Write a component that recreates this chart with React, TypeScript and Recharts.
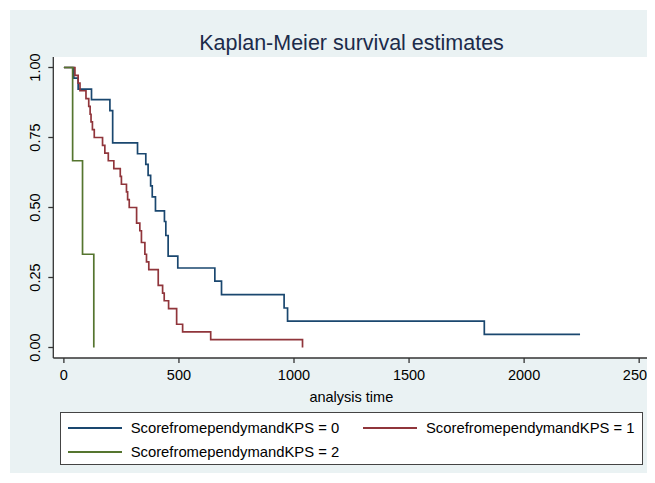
import { LineChart, Line, XAxis, YAxis, CartesianGrid } from 'recharts';

// KPS score 0
const kps0Time = [0, 43, 62, 120, 200, 212, 320, 356, 366, 377, 384, 398, 437, 443, 453, 495, 656, 685, 957, 972, 1827, 2243];
const kps0Surv = [1, 0.962, 0.923, 0.885, 0.846, 0.731, 0.692, 0.654, 0.615, 0.577, 0.538, 0.488, 0.45, 0.4, 0.326, 0.284, 0.237, 0.189, 0.141, 0.094, 0.047, 0.047];

// KPS score 1
const kps1Time = [0, 48, 62, 70, 96, 108, 114, 118, 124, 132, 168, 178, 193, 217, 245, 250, 272, 277, 284, 316, 330, 337, 352, 359, 369, 410, 429, 436, 455, 490, 516, 638, 1037];
const kps1Surv = [1, 0.972, 0.944, 0.917, 0.889, 0.861, 0.833, 0.806, 0.778, 0.75, 0.722, 0.694, 0.667, 0.639, 0.611, 0.583, 0.556, 0.528, 0.5, 0.444, 0.417, 0.375, 0.333, 0.306, 0.278, 0.222, 0.194, 0.167, 0.139, 0.083, 0.056, 0.028, 0];

// KPS score 2
const kps2Time = [0, 38, 81, 130];
const kps2Surv = [1, 0.667, 0.333, 0];

const xTicks = [0, 500, 1000, 1500, 2000, 2500];
const yTicks = [0, 0.25, 0.5, 0.75, 1];

const series = [
  { name: 'ScorefromependymandKPS = 0', color: '#1a476f', time: kps0Time, surv: kps0Surv },
  { name: 'ScorefromependymandKPS = 1', color: '#90353b', time: kps1Time, surv: kps1Surv },
  { name: 'ScorefromependymandKPS = 2', color: '#55752f', time: kps2Time, surv: kps2Surv },
];

const font = '"Liberation Sans", Arial, Helvetica, sans-serif';
const bg = '#eaf2f3';

const YTick = ({ y, payload }: any) => (
  <text
    x={25}
    y={y}
    transform={`rotate(-90 25 ${y})`}
    textAnchor="middle"
    dominantBaseline="central"
    fontSize={14.5}
    fontFamily={font}
    fill="#000"
  >
    {payload.value.toFixed(2)}
  </text>
);

const XTick = ({ x, payload }: any) => (
  <text x={x} y={365} textAnchor="middle" dominantBaseline="central" fontSize={14.5} fontFamily={font} fill="#000">
    {payload.value}
  </text>
);

const legendPos = [
  { left: 6.7, top: 15 },
  { left: 302, top: 15 },
  { left: 6.7, top: 38.4 },
];

export default function App() {
  return (
    <div style={{ position: 'relative', width: 647, height: 475, fontFamily: font }}>
      <div style={{ position: 'absolute', left: 2, top: 2, width: 645, height: 463, background: bg }} />
      <div
        style={{
          position: 'absolute',
          left: 343.5,
          top: 23,
          transform: 'translateX(-50%)',
          fontSize: 21.5,
          lineHeight: '24px',
          color: '#1c2b4a',
          whiteSpace: 'nowrap',
        }}
      >
        Kaplan-Meier survival estimates
      </div>
      <div style={{ position: 'absolute', left: 2, top: 2 }}>
        <LineChart width={645} height={400} margin={{ top: 47, right: 5.7, left: 0, bottom: 0 }}>
          <rect x={43.3} y={47} width={596} height={301} fill="#fff" />
          <CartesianGrid horizontal vertical={false} stroke={bg} strokeWidth={1.5} fill="#fff" />
          <XAxis
            type="number"
            dataKey="t"
            domain={[-46, 2544]}
            ticks={xTicks}
            allowDataOverflow
            height={52}
            tickSize={5}
            stroke="#333"
            strokeWidth={1.3}
            tick={<XTick />}
            label={{
              content: ({ viewBox }: any) => (
                <text
                  x={viewBox.x + viewBox.width / 2}
                  y={387}
                  textAnchor="middle"
                  dominantBaseline="central"
                  fontSize={14.5}
                  fontFamily={font}
                  fill="#000"
                >
                  analysis time
                </text>
              ),
            }}
          />
          <YAxis
            type="number"
            domain={[-0.0375, 1.0375]}
            ticks={yTicks}
            allowDataOverflow
            width={43.3}
            tickSize={5}
            stroke="#333"
            strokeWidth={1.3}
            tick={<YTick />}
          />
          {series.map((s) => (
            <Line
              key={s.name}
              data={s.time.map((t, i) => ({ t, s: s.surv[i] }))}
              dataKey="s"
              name={s.name}
              type="stepAfter"
              stroke={s.color}
              strokeWidth={1.7}
              dot={false}
              activeDot={false}
              isAnimationActive={false}
            />
          ))}
        </LineChart>
      </div>
      <div
        style={{
          position: 'absolute',
          left: 52,
          top: 404.3,
          width: 583.3,
          height: 53.2,
          boxSizing: 'border-box',
          border: '1.3px solid #444',
          background: '#fff',
        }}
      >
        {series.map((s, i) => (
          <div key={s.name} style={{ position: 'absolute', left: legendPos[i].left, top: legendPos[i].top }}>
            <div style={{ position: 'absolute', left: 0, top: -1, width: 54, height: 2, background: s.color }} />
            <div
              style={{
                position: 'absolute',
                left: 63,
                top: -9,
                fontSize: 14.8,
                lineHeight: '18px',
                color: '#000',
                whiteSpace: 'nowrap',
              }}
            >
              {s.name}
            </div>
          </div>
        ))}
      </div>
    </div>
  );
}
